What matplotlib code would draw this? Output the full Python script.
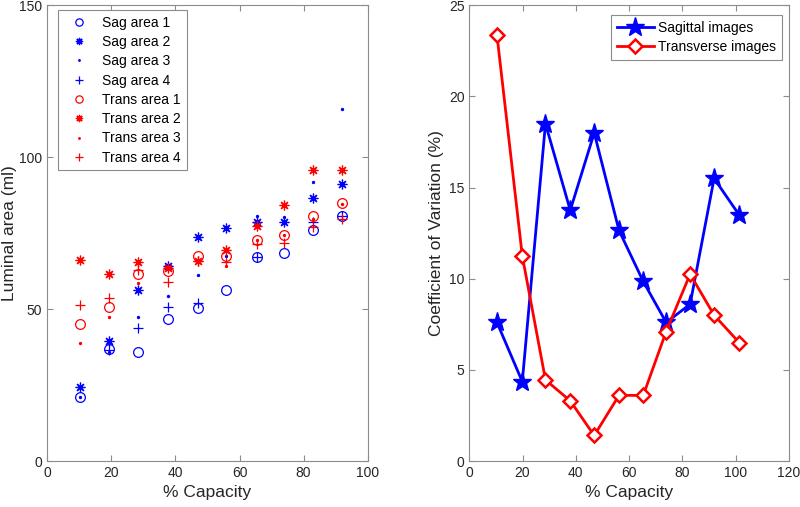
import numpy as np
import matplotlib.pyplot as plt

plt.rcParams['font.family'] = ['Liberation Sans', 'DejaVu Sans']

# left panel: luminal area per capacity step
capacity = [10.3, 19.4, 28.4, 37.8, 46.9, 55.9, 65.3, 73.8, 82.8, 91.9]
nan = np.nan
sag1 = [21.2, 36.8, 35.8, 46.8, 50.4, 56.3, 67.2, 68.3, 76.0, 80.6]
sag2 = [24.2, 39.6, 56.2, 64.3, 73.8, 76.8, 78.6, 78.5, 86.4, 91.1]
sag3 = [21.2, 36.0, 47.3, 54.4, 61.1, 67.4, 80.6, 80.4, 91.9, 115.8]
sag4 = [nan, 36.4, 43.9, 50.8, 51.9, nan, 67.2, nan, 78.7, 80.6]
trans1 = [45.1, 50.8, 61.5, 62.6, 67.4, 67.4, 72.7, 74.5, 80.6, 84.8]
trans2 = [66.1, 61.4, 65.4, 63.4, 65.8, 69.6, 77.4, 84.2, 95.7, 95.7]
trans3 = [38.7, 47.5, 58.7, 63.4, 66.0, 64.3, 72.7, 74.5, 79.8, 84.5]
trans4 = [51.3, 53.5, 62.8, 58.8, 65.8, 65.5, 71.3, 71.9, 77.1, 79.5]

# right panel: coefficient of variation
capacity_cv = [10.4, 19.9, 28.6, 37.9, 46.9, 56.2, 65.3, 73.9, 82.9, 91.9, 101.3]
cv_sag = [7.6, 4.35, 18.5, 13.75, 18.0, 12.65, 9.85, 7.6, 8.6, 15.5, 13.5]
cv_trans = [23.35, 11.25, 4.45, 3.3, 1.4, 3.6, 3.6, 7.1, 10.25, 8.0, 6.5]

axcol = '#262626'
blue = (0, 0, 1)
red = (1, 0, 0)


def style(ax):
    for s in ax.spines.values():
        s.set_color('#8c8c8c')
        s.set_linewidth(0.8)
    ax.tick_params(direction='in', top=True, right=True, colors='#8c8c8c',
                   labelcolor=axcol, labelsize=10, length=4)


fig = plt.figure(figsize=(8, 5.07), dpi=100)
ax1 = fig.add_axes([0.0591, 0.0907, 0.4005, 0.899])
ax2 = fig.add_axes([0.5866, 0.0907, 0.3996, 0.899])

star8 = (8, 2, 0)
series = [
    (sag1, 'o', blue, 'Sag area 1', 7, 'none'),
    (sag2, star8, blue, 'Sag area 2', 7, blue),
    (sag3, '.', blue, 'Sag area 3', 3, blue),
    (sag4, '+', blue, 'Sag area 4', 7, blue),
    (trans1, 'o', red, 'Trans area 1', 7, 'none'),
    (trans2, star8, red, 'Trans area 2', 7, red),
    (trans3, '.', red, 'Trans area 3', 3, red),
    (trans4, '+', red, 'Trans area 4', 7, red),
]
for vals, m, c, lab, ms, fc in series:
    ax1.plot(capacity, vals, linestyle='none', marker=m, color=c, markersize=ms,
             markerfacecolor=fc, markeredgewidth=0.9, label=lab)

ax1.set_xlim(0, 100)
ax1.set_ylim(0, 150)
ax1.set_xticks([0, 20, 40, 60, 80, 100])
ax1.set_yticks([0, 50, 100, 150])
ax1.set_xlabel('% Capacity', fontsize=12.5, color=axcol)
ax1.set_ylabel('Luminal area (ml)', fontsize=12.5, color=axcol)
ax1.yaxis.set_label_coords(-0.095, 0.5)
style(ax1)
leg1 = ax1.legend(loc='upper left', bbox_to_anchor=(0.033, 0.989), fontsize=10,
                  borderaxespad=0, handlelength=2.3, handletextpad=0.5,
                  labelspacing=0.38, borderpad=0.4, markerscale=0.75,
                  fancybox=False, framealpha=1, edgecolor='#8c8c8c')
leg1.get_frame().set_linewidth(0.8)

ax2.plot(capacity_cv, cv_sag, color=blue, linewidth=2, marker='*', markersize=14,
         label='Sagittal images')
ax2.plot(capacity_cv, cv_trans, color=red, linewidth=2, marker='D', markersize=7,
         markerfacecolor='white', markeredgewidth=1.8, label='Transverse images')
ax2.set_xlim(0, 120)
ax2.set_ylim(0, 25)
ax2.set_xticks(range(0, 121, 20))
ax2.set_yticks(range(0, 26, 5))
ax2.set_xlabel('% Capacity', fontsize=12.5, color=axcol)
ax2.set_ylabel('Coefficient of Variation (%)', fontsize=12.5, color=axcol)
ax2.yaxis.set_label_coords(-0.079, 0.5)
style(ax2)
leg2 = ax2.legend(loc='upper right', bbox_to_anchor=(0.978, 0.978), fontsize=10,
                  borderaxespad=0, handlelength=2.7, handletextpad=0.3,
                  labelspacing=0.4, borderpad=0.4,
                  fancybox=False, framealpha=1, edgecolor='#8c8c8c')
leg2.get_frame().set_linewidth(0.8)

fig.savefig('out.png', dpi=100)
